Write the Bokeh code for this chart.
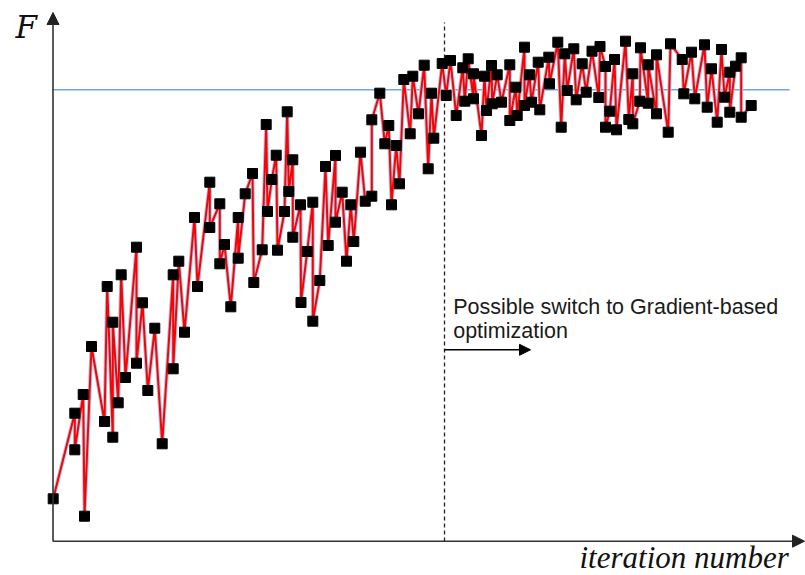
from bokeh.plotting import figure
from bokeh.models import Range1d, Arrow, NormalHead, Label
from bokeh.embed import file_html
from bokeh.resources import INLINE

# Objective value F at each recorded iteration
iteration = [
    0.7, 22.3, 22.3, 30.7, 32.0, 39.0, 52.0, 54.7, 60.3, 60.3,
    65.7, 68.7, 73.0, 84.0, 84.0, 90.0, 95.3, 102.3, 109.7, 120.7,
    120.7, 126.3, 132.0, 142.0, 145.0, 157.3, 157.3, 167.3, 167.3, 172.0,
    178.3, 185.7, 185.7, 192.7, 200.0, 201.3, 209.7, 213.7, 215.0, 219.3,
    223.7, 225.0, 232.0, 234.7, 236.3, 240.3, 240.3, 248.0, 248.5, 254.7,
    260.3, 260.3, 267.3, 273.0, 275.7, 283.0, 283.0, 289.7, 294.0, 298.3,
    301.3, 308.0, 312.7, 319.3, 319.3, 327.3, 332.3, 336.3, 339.0, 343.7,
    347.0, 351.3, 357.7, 360.3, 366.0, 371.7, 375.7, 379.0, 381.3, 389.7,
    393.7, 398.0, 403.7, 410.3, 412.3, 415.7, 421.0, 421.0, 429.0, 432.0,
    434.0, 439.0, 439.7, 444.7, 449.0, 457.3, 457.3, 463.3, 464.7, 472.0,
    472.0, 477.0, 479.0, 485.7, 487.3, 496.3, 497.0, 505.3, 508.7, 512.3,
    514.7, 521.3, 523.7, 529.7, 533.7, 539.5, 546.3, 547.5, 553.0, 553.0,
    557.3, 562.0, 564.0, 573.0, 576.3, 580.3, 580.3, 587.3, 588.0, 595.7,
    595.7, 604.0, 604.0, 615.7, 618.0, 629.7, 631.3, 639.0, 642.3, 652.0,
    654.7, 659.0, 664.7, 669.0, 672.0, 677.3, 677.3, 683.0, 688.7, 688.7,
    698.7,
]
F = [
    42.7, 128.3, 91.7, 147.0, 25.3, 195.0, 120.0, 255.0, 104.3, 219.3,
    138.7, 266.7, 164.0, 294.3, 178.3, 238.7, 151.0, 213.3, 97.7, 266.7,
    172.7, 280.3, 209.3, 324.0, 255.0, 359.3, 314.0, 337.7, 277.7, 297.0,
    234.7, 324.0, 283.3, 347.7, 368.0, 259.0, 291.7, 417.0, 330.0, 362.0,
    386.3, 291.3, 330.0, 429.7, 350.0, 381.7, 304.3, 336.7, 239.0, 290.0,
    339.3, 220.3, 261.0, 375.0, 296.0, 386.0, 319.3, 349.3, 280.3, 336.7,
    300.0, 389.3, 340.3, 345.3, 421.7, 448.3, 397.7, 416.0, 336.7, 396.0,
    357.7, 462.0, 407.7, 465.3, 427.7, 476.3, 372.7, 448.3, 403.3, 478.0,
    446.0, 481.0, 426.0, 473.7, 440.3, 482.7, 442.7, 467.7, 406.0, 465.3,
    431.0, 476.0, 437.7, 466.7, 439.3, 476.7, 421.0, 454.3, 426.0, 494.3,
    436.0, 466.7, 439.3, 479.3, 431.7, 484.3, 457.7, 499.3, 414.3, 487.7,
    451.0, 492.7, 441.7, 477.7, 449.3, 490.3, 444.0, 495.0, 475.0, 414.3,
    430.3, 482.0, 411.7, 500.3, 422.0, 467.7, 417.7, 440.3, 493.7, 438.3,
    476.7, 427.7, 486.7, 409.3, 497.7, 482.0, 447.7, 489.3, 442.7, 496.7,
    434.3, 472.7, 419.3, 492.0, 444.3, 469.3, 429.3, 475.3, 483.7, 424.3,
    436.0,
]

target_F = 451.7          # reference level
switch_iteration = 392.0  # where a gradient-based method could take over

p = figure(width=805, height=575, output_backend="svg", toolbar_location=None,
           x_range=Range1d(-52, 753), y_range=Range1d(-34, 541),
           min_border=0, outline_line_color=None)
p.axis.visible = False
p.grid.visible = False
p.background_fill_color = "white"
p.border_fill_color = "white"

# reference level and switch marker
p.line([0, 737], [target_F, target_F], line_color="#6fa8dc", line_width=1.5)
p.line([switch_iteration, switch_iteration], [0, 519], line_color="#222222",
       line_width=1.3, line_dash="4 3")

# convergence history: red trace with a pale blue halo, black square points
p.line(iteration, F, line_color="#a9cbe8", line_width=4)
p.line(iteration, F, line_color="#ff0000", line_width=2)
p.scatter(iteration, F, marker="square", size=10, fill_color="black",
          line_color="black")

# hand-drawn style axes
p.add_layout(Arrow(end=NormalHead(size=12, fill_color="#222222", line_color="#222222"),
                   x_start=0.5, y_start=0, x_end=0.5, y_end=529,
                   line_color="#333333", line_width=1.6))
p.add_layout(Arrow(end=NormalHead(size=12, fill_color="#222222", line_color="#222222"),
                   x_start=0.5, y_start=0.3, x_end=752, y_end=0.3,
                   line_color="#333333", line_width=1.6))

p.add_layout(Label(x=-37, y=515, text="F", text_font="DejaVu Serif",
                   text_font_style="italic", text_font_size="31px",
                   text_color="#111111", text_baseline="alphabetic"))
p.add_layout(Label(x=527, y=-16, text="iteration number",
                   text_font="Liberation Serif", text_font_style="italic",
                   text_font_size="31px", text_color="#111111",
                   text_baseline="alphabetic"))

# annotation for the switch point
p.add_layout(Label(x=400.7, y=235, text="Possible switch to Gradient-based",
                   text_font="Liberation Sans", text_font_size="21.5px",
                   text_color="#1a1a1a", text_baseline="alphabetic"))
p.add_layout(Label(x=400.7, y=211, text="optimization",
                   text_font="Liberation Sans", text_font_size="21.5px",
                   text_color="#1a1a1a", text_baseline="alphabetic"))
p.add_layout(Arrow(end=NormalHead(size=11, fill_color="black", line_color="black"),
                   x_start=392, y_start=191.7, x_end=478, y_end=191.7,
                   line_color="black", line_width=1.5))

open("out.html", "w").write(file_html(p, INLINE))
